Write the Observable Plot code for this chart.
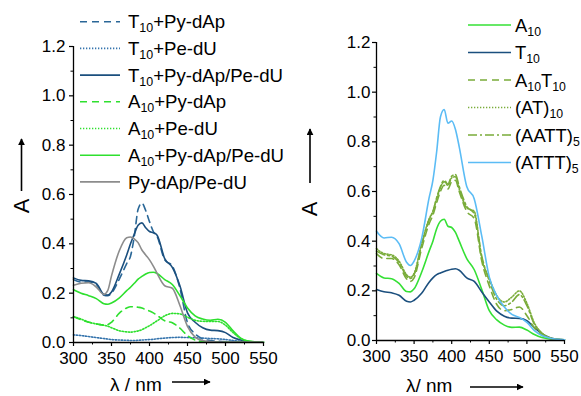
<!DOCTYPE html>
<html>
<head>
<meta charset="utf-8">
<script src="https://cdn.jsdelivr.net/npm/d3@7"></script>
<script src="https://cdn.jsdelivr.net/npm/@observablehq/plot@0.6"></script>
<style>
  body { margin: 0; background: #fff; }
  #fig { position: relative; width: 581px; height: 396px; overflow: hidden; background: #fff;
         font-family: "Liberation Sans", Arial, sans-serif; }
  #fig > svg, #fig > div { position: absolute; top: 0; }
  #overlay { position: absolute; left: 0; top: 0; pointer-events: none; }
</style>
</head>
<body>
<div id="fig"></div>
<script>
// ---------------- data ----------------
const lambda = [300,310,320,330,340,345,350,360,370,375,380,385,390,395,400,405,410,420,430,440,450,460,470,480,490,500,510,520,530,540,550];

// Left panel series (absorbance)
const t10PyDAp = [0.255,0.245,0.245,0.235,0.192,0.190,0.200,0.255,0.320,0.350,0.430,0.540,0.565,0.535,0.490,0.450,0.430,0.335,0.310,0.220,0.080,0.035,0.015,0.008,0.005,0.003,0.002,0.002,0.002,0.002,0.002];
const t10PeDU  = [0.031,0.028,0.024,0.020,0.016,0.014,0.012,0.010,0.009,0.008,0.008,0.009,0.010,0.011,0.012,0.013,0.015,0.018,0.020,0.021,0.020,0.019,0.018,0.016,0.015,0.012,0.008,0.005,0.003,0.002,0.001];
const t10PyPe  = [0.262,0.252,0.250,0.240,0.195,0.192,0.205,0.275,0.355,0.400,0.440,0.475,0.485,0.465,0.450,0.445,0.435,0.340,0.305,0.230,0.120,0.082,0.060,0.050,0.048,0.040,0.020,0.010,0.004,0.002,0.001];
const a10PyDAp = [0.105,0.092,0.082,0.076,0.070,0.072,0.082,0.118,0.140,0.145,0.145,0.143,0.140,0.133,0.128,0.120,0.110,0.088,0.080,0.058,0.028,0.010,0.004,0.002,0.002,0.002,0.002,0.002,0.002,0.002,0.002];
const a10PeDU  = [0.105,0.095,0.083,0.075,0.070,0.066,0.060,0.048,0.043,0.042,0.044,0.047,0.052,0.060,0.068,0.078,0.088,0.108,0.118,0.116,0.102,0.090,0.086,0.085,0.085,0.070,0.040,0.016,0.005,0.002,0.001];
const a10PyPe  = [0.214,0.200,0.190,0.178,0.157,0.155,0.160,0.180,0.210,0.224,0.240,0.257,0.268,0.278,0.284,0.285,0.280,0.255,0.235,0.190,0.140,0.108,0.095,0.090,0.094,0.082,0.047,0.018,0.006,0.003,0.002];
const pyPe     = [0.232,0.240,0.242,0.225,0.195,0.210,0.270,0.370,0.425,0.428,0.420,0.405,0.375,0.355,0.335,0.310,0.280,0.230,0.220,0.150,0.065,0.022,0.008,0.004,0.002,0.002,0.002,0.002,0.002,0.002,0.002];

// Right panel series (absorbance)
const a10   = [0.270,0.252,0.249,0.230,0.197,0.196,0.208,0.275,0.360,0.400,0.450,0.480,0.488,0.460,0.455,0.435,0.400,0.330,0.285,0.205,0.120,0.083,0.062,0.053,0.054,0.042,0.024,0.012,0.006,0.004,0.003];
const t10   = [0.205,0.196,0.192,0.182,0.158,0.155,0.162,0.190,0.235,0.252,0.265,0.272,0.278,0.283,0.287,0.289,0.283,0.252,0.238,0.195,0.155,0.118,0.098,0.090,0.089,0.080,0.052,0.028,0.012,0.005,0.003];
const a10t10= [0.350,0.330,0.330,0.305,0.248,0.238,0.252,0.370,0.470,0.505,0.555,0.600,0.625,0.610,0.640,0.645,0.600,0.520,0.490,0.320,0.220,0.145,0.120,0.125,0.135,0.100,0.050,0.022,0.009,0.004,0.003];
const at10  = [0.370,0.350,0.345,0.320,0.265,0.255,0.270,0.390,0.490,0.520,0.570,0.615,0.640,0.625,0.655,0.660,0.610,0.535,0.520,0.330,0.250,0.180,0.155,0.175,0.200,0.150,0.070,0.030,0.012,0.005,0.003];
const aatt5 = [0.360,0.345,0.340,0.315,0.258,0.250,0.265,0.385,0.485,0.520,0.575,0.620,0.645,0.630,0.662,0.668,0.620,0.540,0.510,0.340,0.240,0.165,0.140,0.155,0.185,0.140,0.065,0.028,0.011,0.005,0.003];
const attt5 = [0.440,0.413,0.416,0.390,0.315,0.302,0.320,0.410,0.575,0.645,0.760,0.900,0.930,0.875,0.884,0.850,0.780,0.620,0.570,0.420,0.255,0.180,0.135,0.105,0.093,0.073,0.040,0.020,0.010,0.005,0.003];

const leftLabels  = ["T_{10}+Py-dAp","T_{10}+Pe-dU","T_{10}+Py-dAp/Pe-dU","A_{10}+Py-dAp","A_{10}+Pe-dU","A_{10}+Py-dAp/Pe-dU","Py-dAp/Pe-dU"];
const rightLabels = ["A_{10}","T_{10}","A_{10}T_{10}","(AT)_{10}","(AATT)_{5}","(ATTT)_{5}"];
const leftSeries  = [t10PyDAp, t10PeDU, t10PyPe, a10PyDAp, a10PeDU, a10PyPe, pyPe];
const rightSeries = [a10, t10, a10t10, at10, aatt5, attt5];

const yMajor = [0,0.2,0.4,0.6,0.8,1.0,1.2];
const yMinor = [0.1,0.3,0.5,0.7,0.9,1.1];
const xMajor = [300,350,400,450,500,550];
const xMinor = [325,375,425,475,525];

// ---------------- styles ----------------
const DASH = "7,5", DOT = "1.3,1.7", DASHDOT = "9,3,2,3";
const leftColors  = ["#2a6797","#3574ad","#1b4f7e","#2ee02e","#2ee02e","#2ee02e","#8c8c8c"];
const leftDashes  = [DASH, DOT, null, DASH, DOT, null, null];
const rightColors = ["#35e035","#1b4f7e","#7aac3a","#7aac3a","#7aac3a","#5bbcf5"];
const rightDashes = [null, null, DASH, DOT, DASHDOT, null];

function panel({series, colors, dashes, width, ml, mr, mt, mb, ypad}) {
  const marks = [];
  series.forEach((vals, i) => {
    marks.push(Plot.line(lambda.map((l, j) => ({l, A: vals[j]})), {
      x: "l", y: "A", stroke: colors[i], strokeWidth: 1.6,
      strokeDasharray: dashes[i] || undefined, curve: "monotone-x"
    }));
  });
  marks.push(
    Plot.ruleX([300], {stroke: "black", strokeWidth: 1.3}),
    Plot.ruleY([0], {stroke: "black", strokeWidth: 1.3}),
    Plot.axisY(yMajor, {tickSize: 4, tickPadding: ypad, tickFormat: d3.format(".1f"), label: null, strokeWidth: 1.2}),
    Plot.axisY(yMinor, {tickSize: 2.5, tickFormat: () => "", label: null}),
    Plot.axisX(xMajor, {tickSize: 4, tickPadding: 5, label: null, strokeWidth: 1.2}),
    Plot.axisX(xMinor, {tickSize: 2.5, tickFormat: () => "", label: null})
  );
  return Plot.plot({
    width, height: 396,
    marginLeft: ml, marginRight: mr, marginTop: mt, marginBottom: mb,
    x: {domain: [300, 550], label: null},
    y: {domain: [0, 1.2], label: null},
    style: {fontSize: "17px", fontFamily: '"Liberation Sans", Arial, sans-serif', color: "black", background: "transparent", overflow: "visible"},
    marks
  });
}

const fig = document.getElementById("fig");
const left = panel({series: leftSeries, colors: leftColors, dashes: leftDashes, width: 290, ml: 73, mr: 27, mt: 46, mb: 54, ypad: 4});
left.style.left = "0px";
fig.appendChild(left);
const right = panel({series: rightSeries, colors: rightColors, dashes: rightDashes, width: 291, ml: 86, mr: 17, mt: 42, mb: 56, ypad: 2});
right.style.left = "290px";
fig.appendChild(right);

// ---------------- overlay: legends and axis titles ----------------
const ov = d3.select(fig).append("svg").attr("id", "overlay").attr("width", 581).attr("height", 396)
  .style("font-family", '"Liberation Sans", Arial, sans-serif');
const defs = ov.append("defs");
defs.append("marker").attr("id", "ah").attr("viewBox", "0 0 10 10").attr("refX", 9).attr("refY", 5)
  .attr("markerWidth", 7).attr("markerHeight", 7).attr("markerUnits", "userSpaceOnUse").attr("orient", "auto")
  .append("path").attr("d", "M0,0L10,5L0,10z").attr("fill", "black");

function richText(sel, label, size) {
  const parts = label.split(/(_\{[^}]*\})/).filter(s => s.length);
  let sub = false;
  parts.forEach(p => {
    if (p.startsWith("_{")) {
      sel.append("tspan").attr("font-size", size * 0.67).attr("dy", 4).text(p.slice(2, -1));
      sub = true;
    } else {
      const t = sel.append("tspan").text(p);
      if (sub) { t.attr("dy", -4); sub = false; }
    }
  });
}

function legend(labels, colors, dashes, x0, x1, xt, y0, dy, size) {
  labels.forEach((lab, i) => {
    const y = y0 + i * dy;
    ov.append("line").attr("x1", x0).attr("x2", x1).attr("y1", y).attr("y2", y)
      .attr("stroke", colors[i]).attr("stroke-width", 1.6).attr("stroke-dasharray", dashes[i]);
    const t = ov.append("text").attr("x", xt).attr("y", y + size * 0.36).attr("font-size", size).attr("fill", "black");
    richText(t, lab, size);
  });
}
legend(leftLabels, leftColors, leftDashes, 80, 120, 128, 21.7, 26.7, 18.6);
legend(rightLabels, rightColors, rightDashes, 468, 511, 515, 25, 27.5, 18.4);

// y titles with arrows
function yTitle(cx, cy, ax, ay0, ay1) {
  ov.append("text").attr("transform", `translate(${cx},${cy}) rotate(-90)`).attr("text-anchor", "middle")
    .attr("dy", "0.36em").attr("font-size", 22).text("A");
  ov.append("line").attr("x1", ax).attr("x2", ax).attr("y1", ay0).attr("y2", ay1)
    .attr("stroke", "black").attr("stroke-width", 1.6).attr("marker-end", "url(#ah)");
}
yTitle(21, 206, 21.5, 191, 139);
yTitle(309, 209, 310, 183, 129);

// x titles with arrows
function xTitle(x, y, label, ax0, ax1, ay) {
  ov.append("text").attr("x", x).attr("y", y).attr("font-size", 19).text(label);
  ov.append("line").attr("x1", ax0).attr("x2", ax1).attr("y1", ay).attr("y2", ay)
    .attr("stroke", "black").attr("stroke-width", 1.4).attr("marker-end", "url(#ah)");
}
xTitle(110, 391, "λ / nm", 172, 210, 382);
xTitle(406, 392, "λ/ nm", 470, 523, 387);
</script>
</body>
</html>
